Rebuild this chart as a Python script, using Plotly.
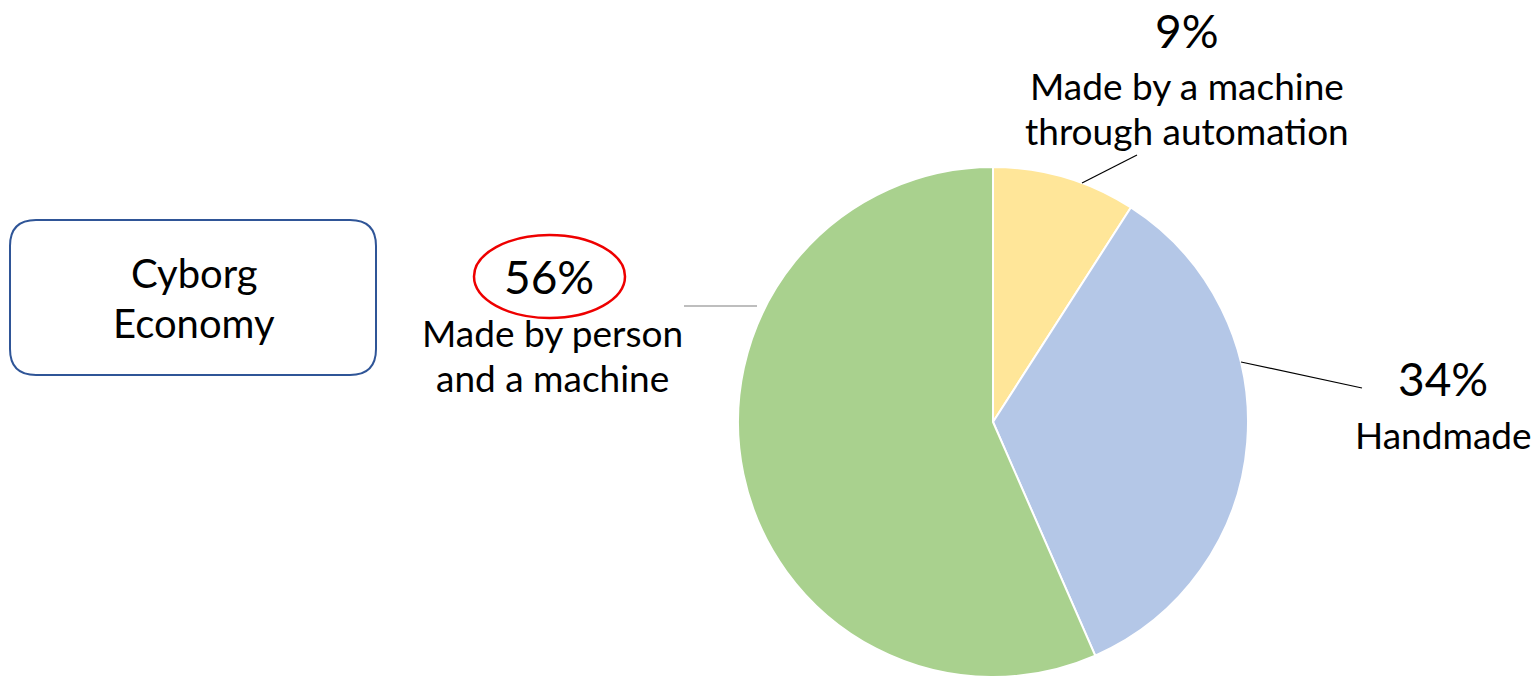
import plotly.graph_objects as go

# ---- data ----
categories = ["Made by a machine<br>through automation", "Handmade", "Made by person<br>and a machine"]
label_lines = [["Made by a machine", "through automation"], ["Handmade"], ["Made by person", "and a machine"]]
values = [9, 34, 56]
pct_text = ["9%", "34%", "56%"]
colors = ["#FFE699", "#B4C7E7", "#A9D18E"]
box_lines = ["Cyborg", "Economy"]

W, H = 1535, 677
FONT = "Lato"


def px(x):
    return x / W


def py(y):
    return 1 - y / H


fig = go.Figure()
fig.add_trace(go.Pie(
    labels=categories,
    values=values,
    sort=False,
    direction="clockwise",
    rotation=0,
    marker=dict(colors=colors, line=dict(color="white", width=2)),
    textinfo="none",
    hoverinfo="label+value",
    showlegend=False,
    domain=dict(x=[px(737), px(1249)], y=[0, 2 * py(422)]),
))

annotations = []
shapes = []

# label layout (pixel positions of text centers)
pct_pos = [(1187, 31), (1443, 378), (549, 276)]
line_pos = [[(1187, 85), (1187, 130)], [(1443, 434)], [(552, 332), (552, 377)]]
leaders = [((1082, 183), (1137, 155)), ((1241, 362), (1362, 388)), ((684, 306), (757, 306))]
leader_colors = ["#000000", "#000000", "#7F7F7F"]

for i in range(len(values)):
    x, y = pct_pos[i]
    annotations.append(dict(x=px(x), y=py(y), xref="paper", yref="paper", text=pct_text[i],
                            showarrow=False, xanchor="center", yanchor="middle",
                            font=dict(family=FONT, size=46, color="black")))
    for (lx, ly), t in zip(line_pos[i], label_lines[i]):
        annotations.append(dict(x=px(lx), y=py(ly), xref="paper", yref="paper", text=t,
                                showarrow=False, xanchor="center", yanchor="middle",
                                font=dict(family=FONT, size=37, color="black")))
    (x0, y0), (x1, y1) = leaders[i]
    shapes.append(dict(type="line", xref="paper", yref="paper", x0=px(x0), y0=py(y0), x1=px(x1), y1=py(y1),
                       line=dict(color=leader_colors[i], width=1.2)))

# red ellipse around 56%
shapes.append(dict(type="circle", xref="paper", yref="paper", x0=px(474), x1=px(625), y0=py(318), y1=py(235),
                   line=dict(color="#EE0000", width=2.5)))

# rounded box
bx0, by0, bx1, by1, r = 10, 220, 376, 375, 26
path = (f"M {px(bx0 + r)},{py(by0)} L {px(bx1 - r)},{py(by0)} Q {px(bx1)},{py(by0)} {px(bx1)},{py(by0 + r)} "
        f"L {px(bx1)},{py(by1 - r)} Q {px(bx1)},{py(by1)} {px(bx1 - r)},{py(by1)} "
        f"L {px(bx0 + r)},{py(by1)} Q {px(bx0)},{py(by1)} {px(bx0)},{py(by1 - r)} "
        f"L {px(bx0)},{py(by0 + r)} Q {px(bx0)},{py(by0)} {px(bx0 + r)},{py(by0)} Z")
shapes.append(dict(type="path", xref="paper", yref="paper", path=path,
                   line=dict(color="#2F5597", width=2), fillcolor="white", layer="below"))
for (ty, t) in zip([273, 323], box_lines):
    annotations.append(dict(x=px(194), y=py(ty), xref="paper", yref="paper", text=t,
                            showarrow=False, xanchor="center", yanchor="middle",
                            font=dict(family=FONT, size=40, color="black")))

fig.update_layout(
    width=W, height=H,
    margin=dict(l=0, r=0, t=0, b=0),
    paper_bgcolor="white", plot_bgcolor="white",
    annotations=annotations, shapes=shapes,
)

fig.write_html("out.html", config={"displayModeBar": False},
               post_script="document.body.style.margin='0';document.body.style.overflow='hidden';")
